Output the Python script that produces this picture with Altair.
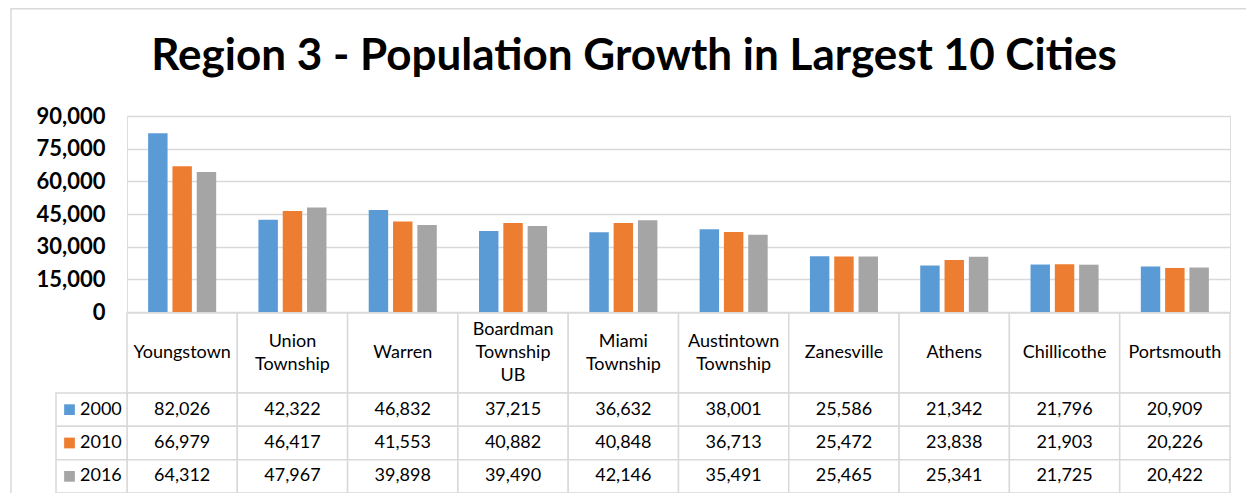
import altair as alt
import pandas as pd

title_text = "Region 3 - Population Growth in Largest 10 Cities"
cities = ["Youngstown", "Union Township", "Warren", "Boardman Township UB", "Miami Township",
          "Austintown Township", "Zanesville", "Athens", "Chillicothe", "Portsmouth"]
header_labels = ["Youngstown", "Union\nTownship", "Warren", "Boardman\nTownship\nUB", "Miami\nTownship",
                 "Austintown\nTownship", "Zanesville", "Athens", "Chillicothe", "Portsmouth"]
years = ["2000", "2010", "2016"]
pop_2000 = [82026, 42322, 46832, 37215, 36632, 38001, 25586, 21342, 21796, 20909]
pop_2010 = [66979, 46417, 41553, 40882, 40848, 36713, 25472, 23838, 21903, 20226]
pop_2016 = [64312, 47967, 39898, 39490, 42146, 35491, 25465, 25341, 21725, 20422]
colors = ["#5B9BD5", "#ED7D31", "#A5A5A5"]
y_ticks = [0, 15000, 30000, 45000, 60000, 75000, 90000]

FONT = "Lato"
GRID = "#D9D9D9"
LH = 23
FS = 18

rows = []
for yr, vals in zip(years, [pop_2000, pop_2010, pop_2016]):
    for c, v in zip(cities, vals):
        rows.append({"city": c, "year": yr, "value": v})
long_df = pd.DataFrame(rows)
header_df = pd.DataFrame({"city": cities, "label": header_labels, "row": "header",
                          "nlines": [s.count("\n") + 1 for s in header_labels]})
legend_df = pd.DataFrame({"year": years, "col": "legend"})

W, H = 1103, 196
city_tab = alt.Scale(domain=cities, range=[0, W], paddingInner=0, paddingOuter=0)
head_scale = alt.Scale(domain=["header"], range=[197, 277], paddingInner=0, paddingOuter=0)
row_scale = alt.Scale(domain=years, range=[277, 377], paddingInner=0, paddingOuter=0)
leg_scale = alt.Scale(domain=["legend"], range=[-71, 0], paddingInner=0, paddingOuter=0)
sq_scale = alt.Scale(domain=["legend"], range=[-63, -52], paddingInner=0, paddingOuter=0)
color_scale = alt.Scale(domain=years, range=colors)

frame = alt.Chart(pd.DataFrame({"a": [0]})).mark_rect(
    fillOpacity=0, stroke=GRID, strokeWidth=1.5
).encode(x=alt.value(-116), x2=alt.value(1140), y=alt.value(-107.2), y2=alt.value(420))

title = alt.Chart(pd.DataFrame({"t": [title_text]})).mark_text(
    font=FONT, fontSize=44, fontWeight="bold", color="black", align="center", baseline="alphabetic"
).encode(x=alt.value(507), y=alt.value(-46), text="t:N")

bars = alt.Chart(long_df).mark_bar().encode(
    x=alt.X("city:N", scale=alt.Scale(domain=cities, paddingInner=0.383, paddingOuter=0.1915), axis=None),
    xOffset=alt.XOffset("year:N", scale=alt.Scale(domain=years, paddingInner=0.2, paddingOuter=0)),
    y=alt.Y("value:Q", scale=alt.Scale(domain=[0, 90000]), title=None,
            axis=alt.Axis(values=y_ticks, format=",.0f", labelFont=FONT, labelFontSize=22,
                          labelFontWeight="bold", labelColor="black", labelPadding=22,
                          domain=False, ticks=False, grid=True, gridColor=GRID, gridWidth=1.5)),
    color=alt.Color("year:N", scale=color_scale, legend=None),
)

cell_style = dict(fill="white", stroke=GRID, strokeWidth=1.5)

header_rect = alt.Chart(header_df).mark_rect(**cell_style).encode(
    x=alt.X("city:N", scale=city_tab, axis=None),
    y=alt.Y("row:N", scale=head_scale, axis=None),
)
data_rect = alt.Chart(long_df).mark_rect(**cell_style).encode(
    x=alt.X("city:N", scale=city_tab, axis=None),
    y=alt.Y("year:N", scale=row_scale, axis=None),
)
legend_rect = alt.Chart(legend_df).mark_rect(**cell_style).encode(
    x=alt.X("col:N", scale=leg_scale, axis=None),
    y=alt.Y("year:N", scale=row_scale, axis=None),
)


def header_text(n):
    return alt.Chart(header_df).transform_filter(alt.datum.nlines == n).mark_text(
        font=FONT, fontSize=FS, color="black", lineBreak="\n", lineHeight=LH,
        baseline="middle", dy=-(n - 1) * LH / 2
    ).encode(
        x=alt.X("city:N", scale=city_tab, axis=None),
        y=alt.Y("row:N", scale=head_scale, axis=None),
        text="label:N",
    )


data_text = alt.Chart(long_df).mark_text(
    font=FONT, fontSize=FS, color="black", baseline="middle"
).encode(
    x=alt.X("city:N", scale=city_tab, axis=None),
    y=alt.Y("year:N", scale=row_scale, axis=None),
    text=alt.Text("value:Q", format=","),
)

legend_sq = alt.Chart(legend_df).mark_square(size=115, opacity=1).encode(
    x=alt.X("col:N", scale=sq_scale, axis=None),
    y=alt.Y("year:N", scale=row_scale, axis=None),
    color=alt.Color("year:N", scale=color_scale, legend=None),
)
legend_text = alt.Chart(legend_df).mark_text(
    font=FONT, fontSize=FS, color="black", align="left", baseline="middle", dx=-11.5
).encode(
    x=alt.X("col:N", scale=leg_scale, axis=None),
    y=alt.Y("year:N", scale=row_scale, axis=None),
    text="year:N",
)

chart = alt.layer(
    frame, title, bars, header_rect, data_rect, legend_rect,
    header_text(1), header_text(2), header_text(3), data_text, legend_sq, legend_text
).resolve_scale(
    x="independent", y="independent"
).properties(
    width=W, height=H,
    autosize=alt.AutoSizeParams(type="none"),
    padding={"left": 119, "top": 108, "right": 16, "bottom": 181},
).configure_view(stroke=None).configure(background="white")

chart.save("out.html", embed_options={"renderer": "svg", "actions": False})
